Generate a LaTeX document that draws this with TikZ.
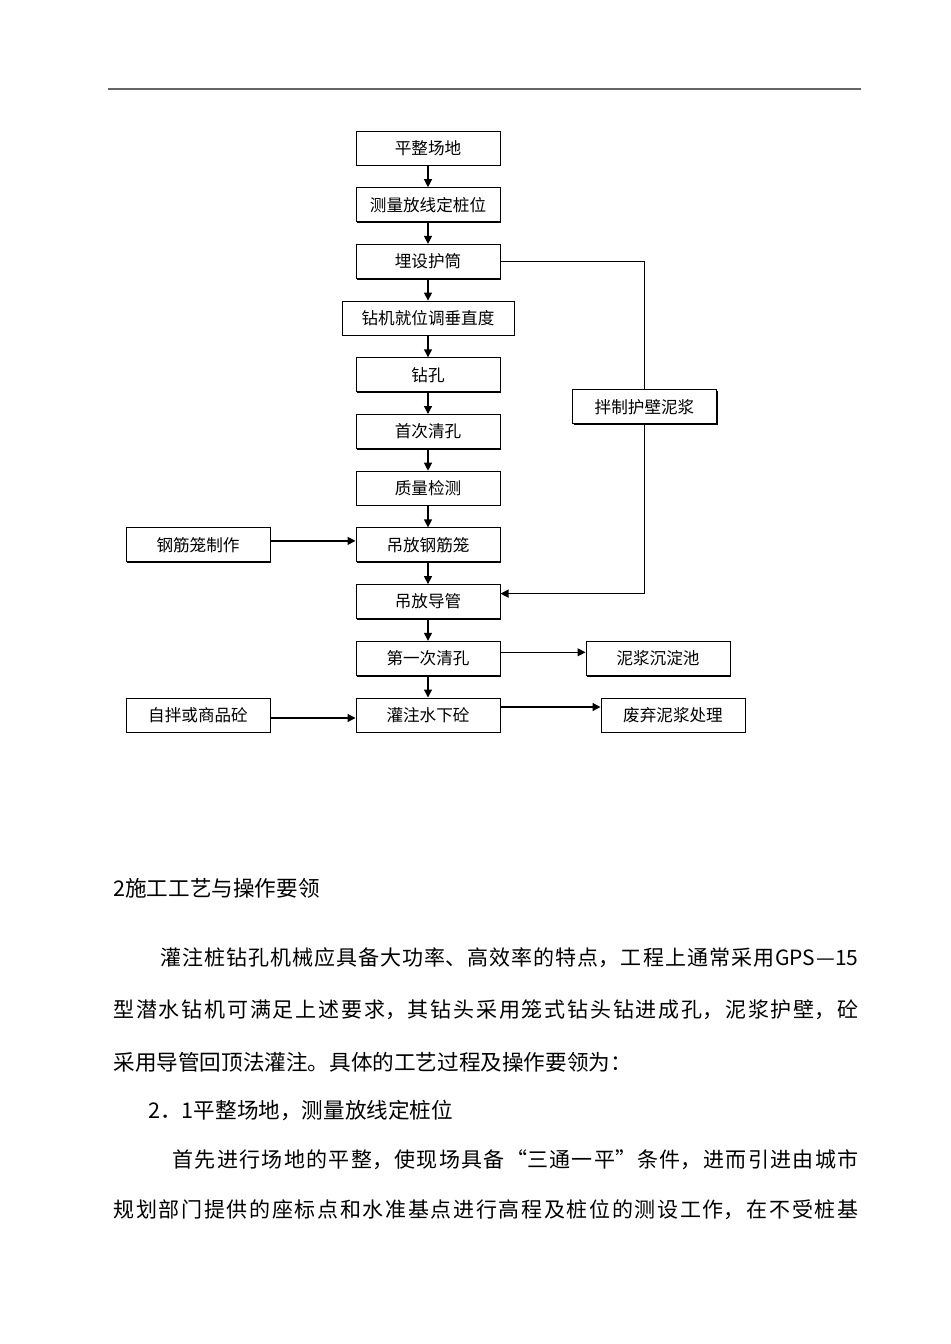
\documentclass[tikz,border=0pt]{standalone}
\usepackage{fontspec}
\setmainfont{Noto Sans CJK SC}
\usetikzlibrary{positioning,arrows.meta,shadows}
\XeTeXlinebreaklocale "zh"
\XeTeXlinebreakskip=0pt plus 2pt

\tikzset{
  proc/.style={draw, line width=0.5pt, fill=white, minimum width=72pt, minimum height=17pt,
    inner sep=1pt, font=\fontsize{8.3}{10}\selectfont,
    drop shadow={shadow xshift=0.6pt, shadow yshift=-0.6pt, fill=black, opacity=1}},
  wide/.style={minimum width=86pt},
  link/.style={line width=0.6pt},
  arr/.style={line width=0.6pt, -{Triangle[length=4pt,width=4pt]}},
  txt/.style={anchor=west, inner sep=0pt, font=\fontsize{10.8}{13}\selectfont},
  jline/.style={anchor=west, inner sep=0pt, font=\fontsize{10.5}{13}\selectfont,
    text width=#1, align=justify,
    execute at begin node={\parindent=0pt\parfillskip=0pt\tolerance=10000}}
}

\begin{document}
\begin{tikzpicture}[x=0.5pt,y=-0.5pt,node distance=28.35pt,on grid]
  \useasboundingbox (0,0) rectangle (950,1344);
  % page rule
  \draw[black!60, line width=0.9pt] (108,89) -- (861,89);

  % main chain
  \node[proc] (pingzheng) at (428,148) {平整场地};
  \node[proc] (celiang) [below=of pingzheng] {测量放线定桩位};
  \node[proc] (maishe) [below=of celiang] {埋设护筒};
  \node[proc,wide] (zuanji) [below=of maishe] {钻机就位调垂直度};
  \node[proc] (zuankong) [below=of zuanji] {钻孔};
  \node[proc] (shouci) [below=of zuankong] {首次清孔};
  \node[proc] (zhiliang) [below=of shouci] {质量检测};
  \node[proc] (ganglong) [below=of zhiliang] {吊放钢筋笼};
  \node[proc] (daoguan) [below=of ganglong] {吊放导管};
  \node[proc] (diyici) [below=of daoguan] {第一次清孔};
  \node[proc] (guanzhu) [below=of diyici] {灌注水下砼};

  % side boxes
  \node[proc] (banzhi) [below right=16pt and 108.25pt of zuankong] {拌制护壁泥浆};
  \node[proc] (zhizuo) [left=115pt of ganglong] {钢筋笼制作};
  \node[proc] (chendian) [right=115pt of diyici] {泥浆沉淀池};
  \node[proc] (shangpin) [left=115pt of guanzhu] {自拌或商品砼};
  \node[proc] (feiqi) [right=122.5pt of guanzhu] {废弃泥浆处理};

  \path[arr]
    (pingzheng) edge (celiang)
    (celiang) edge (maishe)
    (maishe) edge (zuanji)
    (zuanji) edge (zuankong)
    (zuankong) edge (shouci)
    (shouci) edge (zhiliang)
    (zhiliang) edge (ganglong)
    (ganglong) edge (daoguan)
    (daoguan) edge (diyici)
    (diyici) edge (guanzhu);

  \coordinate (tap) at ([yshift=4pt]daoguan.east);
  \draw[link] (maishe.east) -| (banzhi.north);
  \draw[arr] (banzhi.south) |- (tap);
  \draw[arr] ([yshift=2pt]zhizuo.east) -- ([yshift=2pt]ganglong.west);
  \draw[arr] ([yshift=3pt]diyici.east) -- ([yshift=3pt]chendian.west);
  \draw[arr] ([yshift=-1.5pt]shangpin.east) -- ([yshift=-1.5pt]guanzhu.west);
  \draw[arr] ([yshift=4pt]guanzhu.east) -- ([yshift=4pt]feiqi.west);

  % body text
  \node[txt] (t0) at (113,888) {2施工工艺与操作要领};
  \node[jline=349pt] (t1) at (160,958) {灌注桩钻孔机械应具备大功率、高效率的特点，工程上通常采用GPS—15};
  \node[jline=372.5pt] (t2) at (113,1010) {型潜水钻机可满足上述要求，其钻头采用笼式钻头钻进成孔，泥浆护壁，砼};
  \node[txt] (t3) at (113,1062) {采用导管回顶法灌注。具体的工艺过程及操作要领为：};
  \node[txt] (t4) at (148,1110) {2．1平整场地，测量放线定桩位};
  \node[jline=343pt] (t5) at (172,1160) {首先进行场地的平整，使现场具备“三通一平”条件，进而引进由城市};
  \node[jline=372.5pt] (t6) at (113,1210) {规划部门提供的座标点和水准基点进行高程及桩位的测设工作，在不受桩基};
\end{tikzpicture}
\end{document}
